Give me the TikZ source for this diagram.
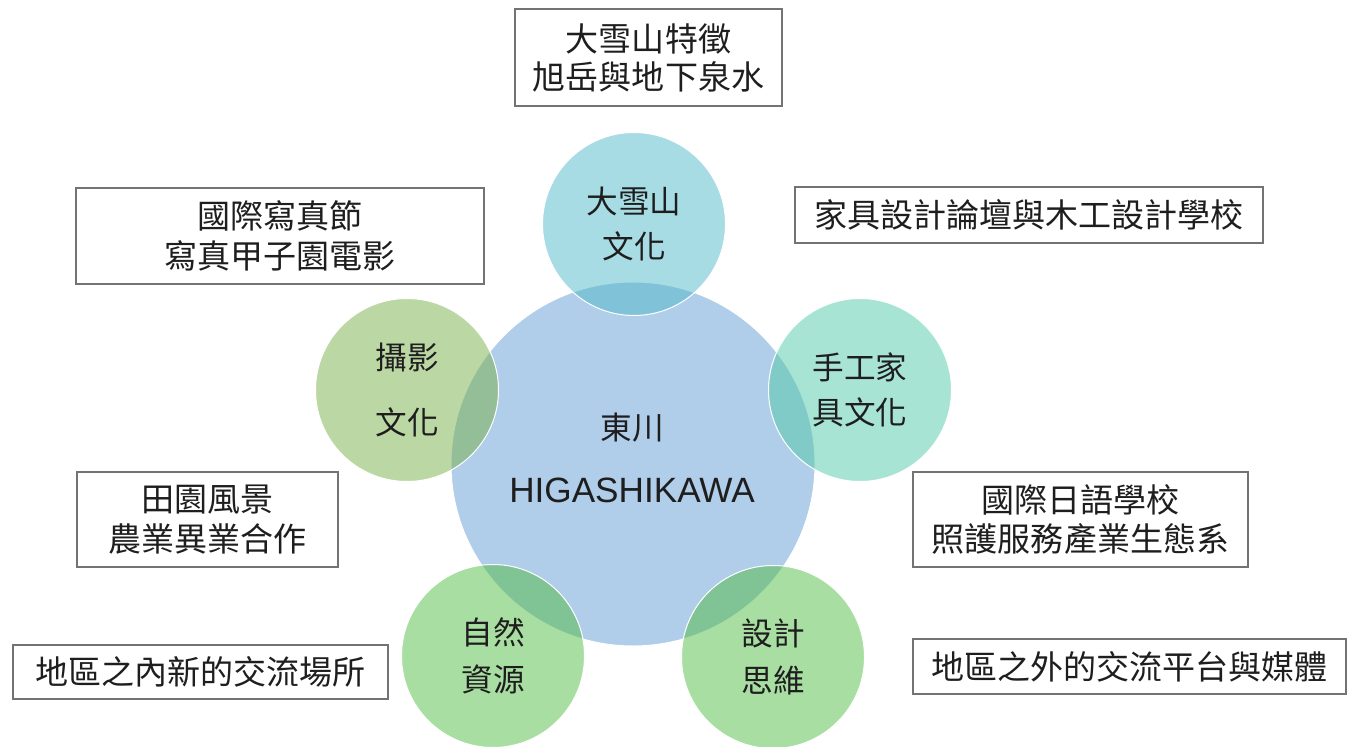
\documentclass[tikz,border=0pt]{standalone}
\usepackage{fontspec}
\setmainfont{Noto Sans CJK TC}
\newfontfamily\latinfont{Liberation Sans}
\definecolor{hubblue}{RGB}{176,205,233}
\definecolor{snowteal}{RGB}{81,185,201}
\definecolor{craftmint}{RGB}{81,201,169}
\definecolor{photoolive}{RGB}{119,177,73}
\definecolor{naturegreen}{RGB}{81,189,69}
\definecolor{boxgray}{RGB}{115,115,115}
\definecolor{inkgray}{RGB}{30,30,30}
\tikzset{
  hub/.style={circle, minimum size=7.28cm, inner sep=0pt, fill=hubblue, draw=white, line width=0.02cm, text=inkgray},
  bubble/.style={circle, minimum size=3.66cm, inner sep=0pt, fill opacity=0.5, text opacity=1, draw=white, draw opacity=1, line width=0.02cm, text=inkgray, align=center},
  infobox/.style={rectangle, draw=boxgray, line width=0.032cm, inner sep=0pt, align=center, text=inkgray, font=\fontsize{18.8}{22.7}\selectfont}
}
\begin{document}
\begin{tikzpicture}
                    \useasboundingbox (0,0) rectangle (27.060000,14.920000);
                    {\fontsize{18}{25.5}\selectfont

                    % Drawing circle Higashikawa
                    \node (hub) [hub] at (12.660000,5.640000) {};%
                    \node (hubtext) [align=center, text=inkgray, font=\fontsize{18}{36.3}\selectfont] at (12.640000,5.760000)
                      {東川\\{\latinfont\fontsize{20}{36.3}\selectfont HIGASHIKAWA}};%

                    % Drawing circle snow mountain
                    \node (snow) [bubble, fill=snowteal] at (12.680000,10.440000) {大雪山\\文化};%

                    % Drawing circle photography
                    \node (photo) [bubble, fill=photoolive, font=\fontsize{18}{37}\selectfont] at (8.140000,7.120000) {攝影\\文化};%

                    % Drawing circle furniture
                    \node (craft) [bubble, fill=craftmint] at (17.200000,7.120000) {手工家\\具文化};%

                    % Drawing circle nature
                    \node (nature) [bubble, fill=naturegreen, font=\fontsize{18}{26.5}\selectfont] at (9.860000,1.800000) {自然\\資源};%

                    % Drawing circle design
                    \node (design) [bubble, fill=naturegreen, font=\fontsize{18}{26.5}\selectfont] at (15.460000,1.780000) {設計\\思維};%

                    % Drawing box above snow mountain
                    \node (snowbox) [infobox, minimum width=5.340000cm, minimum height=1.940000cm, font=\fontsize{18.8}{21.6}\selectfont] at (12.970000,13.770000)
                      {大雪山特徵\\旭岳與地下泉水};%

                    % Drawing box of photography
                    \node (photobox) [infobox, minimum width=8.160000cm, minimum height=1.920000cm] at (5.600000,10.200000)
                      {國際寫真節\\寫真甲子園電影};%

                    % Drawing box of furniture
                    \node (craftbox) [infobox, minimum width=9.360000cm, minimum height=1.120000cm] at (20.580000,10.620000)
                      {家具設計論壇與木工設計學校};%

                    % Drawing box of landscape
                    \node (landbox) [infobox, minimum width=5.220000cm, minimum height=1.900000cm] at (4.150000,4.530000)
                      {田園風景\\農業異業合作};%

                    % Drawing box of school
                    \node (schoolbox) [infobox, minimum width=6.700000cm, minimum height=1.900000cm] at (21.610000,4.530000)
                      {國際日語學校\\照護服務產業生態系};%

                    % Drawing box inside the region
                    \node (innerbox) [infobox, minimum width=7.500000cm, minimum height=1.080000cm] at (4.010000,1.480000)
                      {地區之內新的交流場所};%

                    % Drawing box outside the region
                    \node (outerbox) [infobox, minimum width=8.660000cm, minimum height=1.100000cm] at (22.590000,1.590000)
                      {地區之外的交流平台與媒體};%
                    }
\end{tikzpicture}
\end{document}
